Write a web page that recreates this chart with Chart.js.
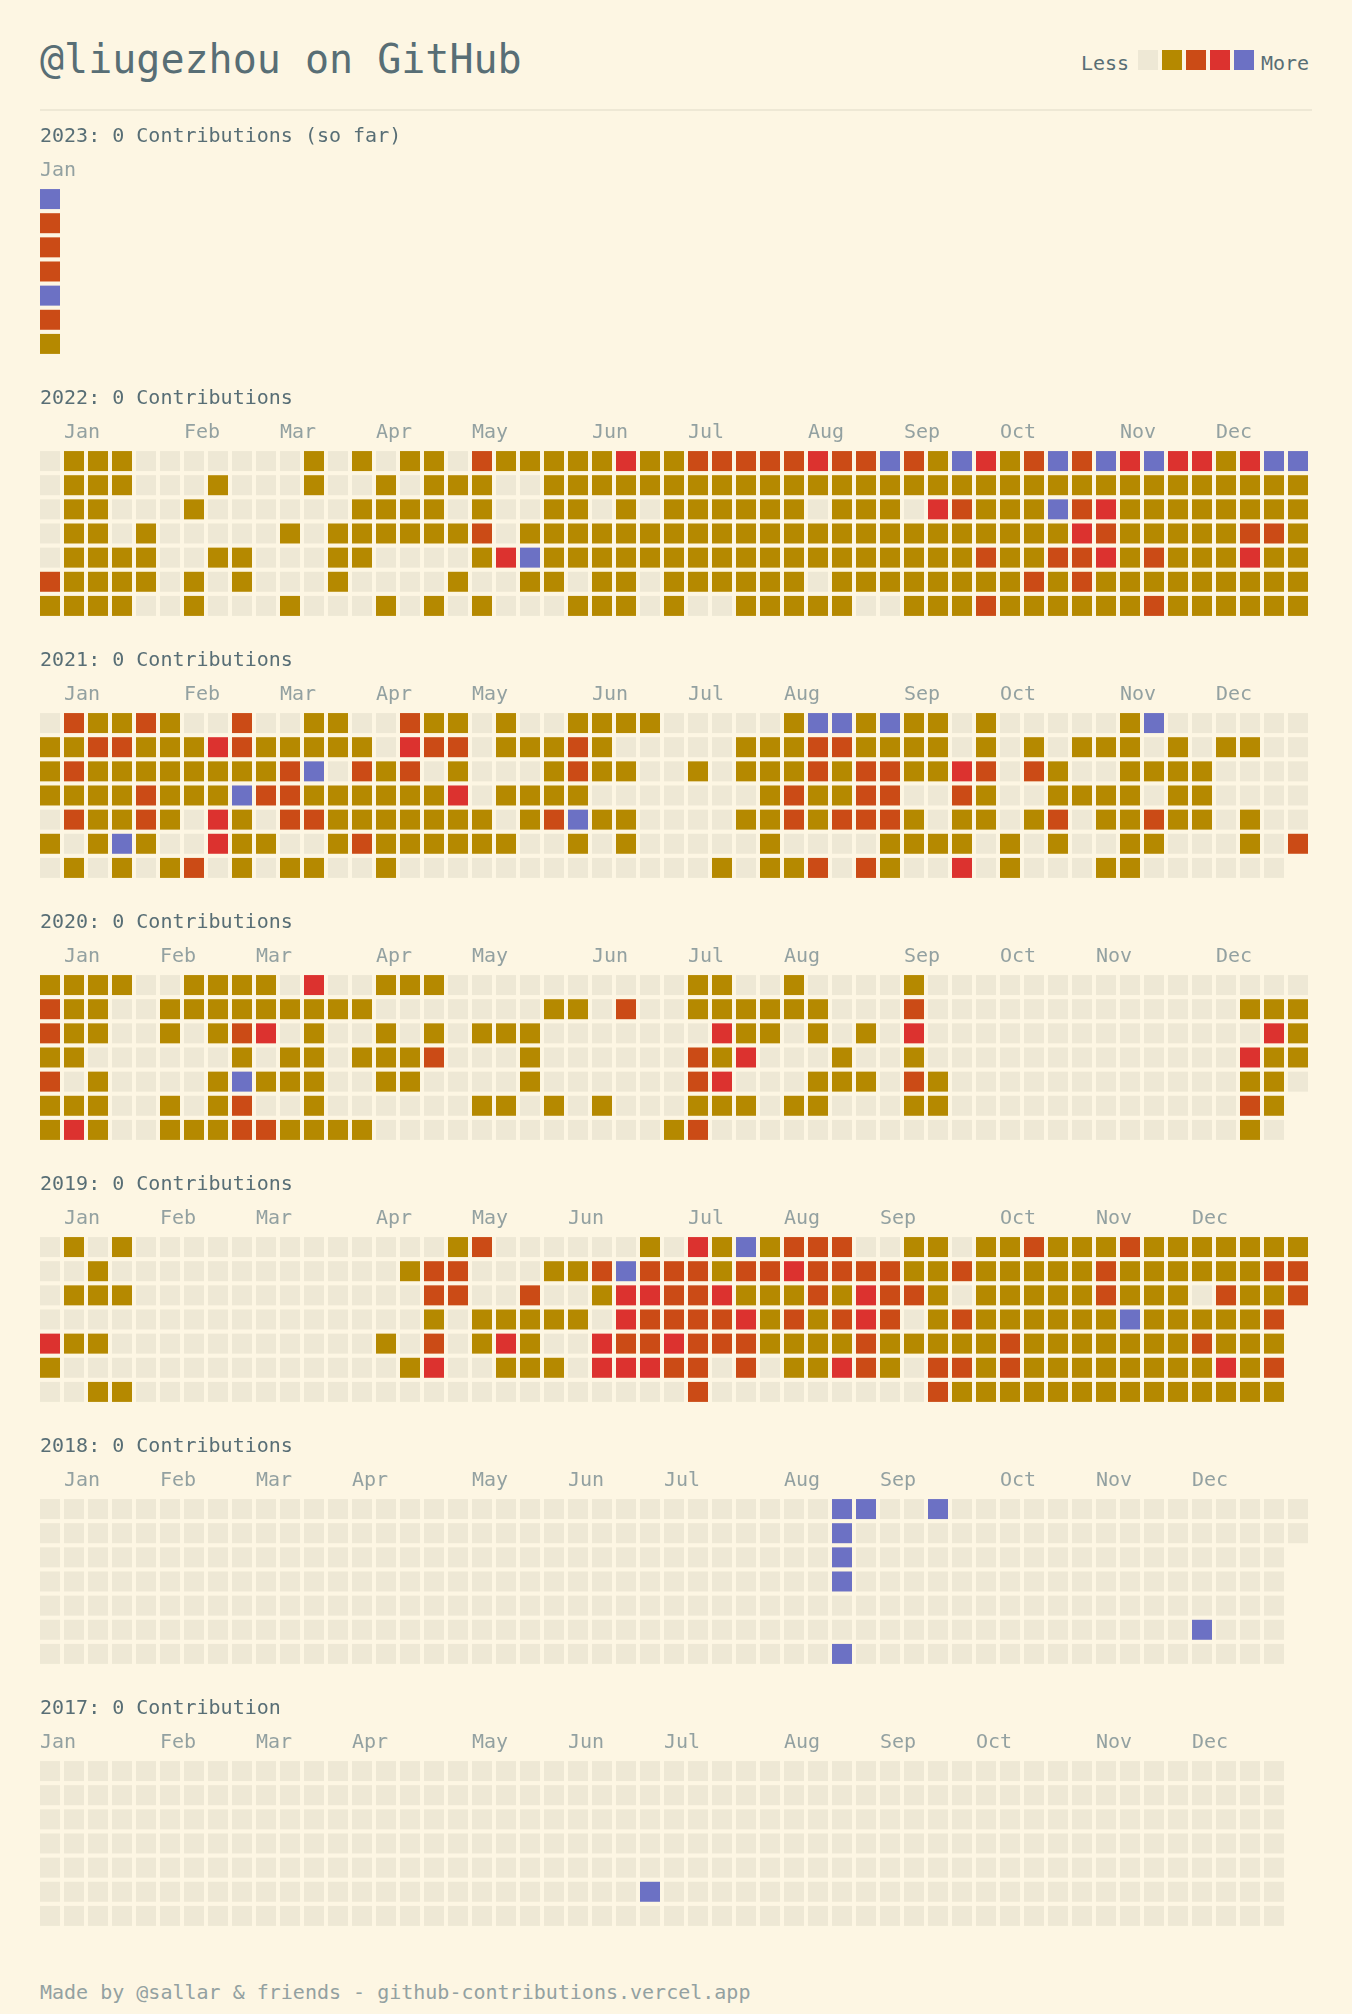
<!DOCTYPE html>
<html>
<head>
<meta charset="utf-8">
<title>@liugezhou on GitHub</title>
<script src="https://cdn.jsdelivr.net/npm/chart.js"></script>
<style>
  html, body { margin: 0; padding: 0; background: #fdf6e3; }
  #page { position: relative; width: 1352px; height: 2014px; overflow: hidden;
          font-family: 'DejaVu Sans Mono', monospace; background: #fdf6e3; }
  .txt { position: absolute; white-space: pre; }
  canvas { position: absolute; left: 0; }
</style>
</head>
<body>
<div id="page">
  <div class="txt" style="left:40px;top:39px;font-size:40px;line-height:40px;color:#586e75">@liugezhou on GitHub</div>
  <div class="txt" style="left:1081px;top:53px;font-size:20px;line-height:20px;color:#586e75">Less</div>
  <div class="txt" style="left:1261px;top:53px;font-size:20px;line-height:20px;color:#586e75">More</div>
  <div id="legendBoxes"></div>
  <div style="position:absolute;left:40px;top:109px;width:1272px;height:2px;background:#eee8d5"></div>
  <div class="txt" style="left:40px;top:1982px;font-size:20px;line-height:20px;color:#93a1a1">Made by @sallar &amp; friends - github-contributions.vercel.app</div>
</div>
<script>
// ---------------- DATA ----------------
const monthNames = ['Jan','Feb','Mar','Apr','May','Jun','Jul','Aug','Sep','Oct','Nov','Dec'];
const levelColors = ['#eee8d5', '#b58900', '#cb4b16', '#dc322f', '#6c71c4'];
const years = [2023, 2022, 2021, 2020, 2019, 2018, 2017];
const headings = [
  '2023: 0 Contributions (so far)',
  '2022: 0 Contributions',
  '2021: 0 Contributions',
  '2020: 0 Contributions',
  '2019: 0 Contributions',
  '2018: 0 Contributions',
  '2017: 0 Contribution'
];

// week column where each month label starts
const monthCols2023 = [0];
const monthCols2022 = [1, 6, 10, 14, 18, 23, 27, 32, 36, 40, 45, 49];
const monthCols2021 = [1, 6, 10, 14, 18, 23, 27, 31, 36, 40, 45, 49];
const monthCols2020 = [1, 5, 9, 14, 18, 23, 27, 31, 36, 40, 44, 49];
const monthCols2019 = [1, 5, 9, 14, 18, 22, 27, 31, 35, 40, 44, 48];
const monthCols2018 = [1, 5, 9, 13, 18, 22, 26, 31, 35, 40, 44, 48];
const monthCols2017 = [0, 5, 9, 13, 18, 22, 26, 31, 35, 39, 44, 48];

// contribution level per day: one string per weekday row, one digit per week (0..4)
const cells2023 = ['4', '2', '2', '2', '4', '2', '1'];
const cells2022 = [
  '0111000000 0101011021 1111311222 2232242143 1242434331 344',
  '0111000100 0100101110 0111111111 1111111111 1111111111 111',
  '0110001000 0001111010 0110101111 1101110321 1142311111 111',
  '0110100000 1011111120 1111111111 1111111111 1113211111 221',
  '0111100110 0011000013 4111111111 1111111112 1122312111 311',
  '2111101010 0010000100 1101101111 1101111111 1212111111 111',
  '1111001000 1000101010 0011101001 1111001112 1111112111 111'
];
const cells2021 = [
  '0211210020 0110021101 0011110000 0144141101 0000014000 000',
  '1122111321 1111032201 1121000001 1122111101 0101110101 100',
  '1211111111 2402120100 0121100101 1121221132 0210011110 000',
  '1111211142 2111111301 1110000000 1211220021 0011110110 000',
  '0211210310 2211111110 1241100001 1212221011 0120112110 100',
  '1014100311 0012111111 0010100000 1000011110 1010011000 102',
  '0101012010 1100100000 0000000010 1120210030 1000110000 00'
];
const cells2020 = [
  '1111001111 0300111000 0000000110 0100001000 0000000000 000',
  '2110011111 1111000000 0110200111 1110002000 0000000000 111',
  '2110010123 0100101011 1000000031 1010103000 0000000000 031',
  '1100000010 1101112000 1000000213 0001001000 0000000000 311',
  '2010000141 1100110000 1000000230 0011102100 0000000000 110',
  '1110010120 0100000011 0101000111 0110001100 0000000000 21',
  '1310011122 1111000000 0000001200 0000000000 0000000000 10'
];
const cells2019 = [
  '0101000000 0000000120 0000010314 1222001101 1211121111 111',
  '0010000000 0000012200 0112422212 2322221121 1111211111 122',
  '0111000000 0000002200 2001332231 1121322101 1111211102 112',
  '0000000000 0000001011 1110322223 1212320121 1111141111 12',
  '3110000000 0000102013 1003223222 1111211111 2111111121 11',
  '1000000000 0000013001 1103332202 0113210221 2111111113 12',
  '0011000000 0000000000 0000000200 0000000211 1111111111 11'
];
const cells2018 = [
  '0000000000 0000000000 0000000000 0004400400 0000000000 000',
  '0000000000 0000000000 0000000000 0004000000 0000000000 000',
  '0000000000 0000000000 0000000000 0004000000 0000000000 00',
  '0000000000 0000000000 0000000000 0004000000 0000000000 00',
  '0000000000 0000000000 0000000000 0000000000 0000000000 00',
  '0000000000 0000000000 0000000000 0000000000 0000000040 00',
  '0000000000 0000000000 0000000000 0004000000 0000000000 00'
];
const cells2017 = [
  '0000000000 0000000000 0000000000 0000000000 0000000000 00',
  '0000000000 0000000000 0000000000 0000000000 0000000000 00',
  '0000000000 0000000000 0000000000 0000000000 0000000000 00',
  '0000000000 0000000000 0000000000 0000000000 0000000000 00',
  '0000000000 0000000000 0000000000 0000000000 0000000000 00',
  '0000000000 0000000000 0000040000 0000000000 0000000000 00',
  '0000000000 0000000000 0000000000 0000000000 0000000000 00'
];

const yearCells = [cells2023, cells2022, cells2021, cells2020, cells2019, cells2018, cells2017];
const yearMonthCols = [monthCols2023, monthCols2022, monthCols2021, monthCols2020, monthCols2019, monthCols2018, monthCols2017];

// ---------------- DRAWING ----------------
const FONT = "'DejaVu Sans Mono', monospace";
Chart.defaults.font.family = FONT;
const CELL = 20;          // square side in px
const PITCH = 24;         // px per week / per day
const WEEKS = 53;
const page = document.getElementById('page');

// legend swatches
const lb = document.getElementById('legendBoxes');
levelColors.forEach((c, i) => {
  const d = document.createElement('div');
  d.style.cssText = `position:absolute;left:${1138 + i * PITCH}px;top:50px;width:${CELL}px;height:${CELL}px;background:${c}`;
  lb.appendChild(d);
});

years.forEach((year, idx) => {
  const rows = yearCells[idx];
  const cols = yearMonthCols[idx];
  const labelAt = {};
  cols.forEach((c, i) => { labelAt[c] = monthNames[i]; });

  const cellTop = 190 + 262 * idx;
  const canvas = document.createElement('canvas');
  canvas.width = 1352; canvas.height = 80 + 7 * PITCH;
  canvas.style.top = (cellTop - 80) + 'px';
  canvas.style.width = '1352px';
  canvas.style.height = canvas.height + 'px';
  page.appendChild(canvas);

  const datasets = levelColors.map((color, lvl) => ({
    label: 'level ' + lvl,
    data: [],
    backgroundColor: color,
    borderWidth: 0,
    pointStyle: 'rect',
    pointRadius: CELL / Math.SQRT2,
    pointHoverRadius: CELL / Math.SQRT2,
    clip: false
  }));
  rows.forEach((rowStr, r) => {
    const s = rowStr.replace(/ /g, '');
    for (let c = 0; c < s.length; c++) {
      datasets[+s[c]].data.push({ x: c + (CELL / 2) / PITCH, y: r + (CELL / 2) / PITCH });
    }
  });

  new Chart(canvas, {
    type: 'scatter',
    data: { datasets },
    options: {
      responsive: false,
      animation: false,
      devicePixelRatio: 1,
      events: [],
      layout: { autoPadding: false, padding: { left: 40, right: 40, top: 0, bottom: 0 } },
      plugins: {
        legend: { display: false },
        tooltip: { enabled: false },
        title: {
          display: true,
          text: headings[idx],
          align: 'start',
          color: '#586e75',
          font: { family: FONT, size: 20, weight: 'normal' },
          padding: { top: 15, bottom: 0 }
        }
      },
      scales: {
        x: {
          type: 'linear',
          position: 'top',
          min: 0,
          max: WEEKS,
          bounds: 'data',
          grid: { display: false, drawTicks: false },
          border: { display: false },
          ticks: {
            color: '#93a1a1',
            font: { family: FONT, size: 20 },
            padding: 6,
            align: 'start',
            autoSkip: false,
            maxRotation: 0,
            minRotation: 0,
            callback: (v) => (labelAt[v] !== undefined ? labelAt[v] : '')
          },
          afterBuildTicks: (axis) => { axis.ticks = cols.map(c => ({ value: c })); },
          afterFit: (axis) => { axis.height = 40; }
        },
        y: {
          type: 'linear',
          reverse: true,
          min: 0,
          max: 7,
          display: false
        }
      }
    }
  });
});
</script>
</body>
</html>
